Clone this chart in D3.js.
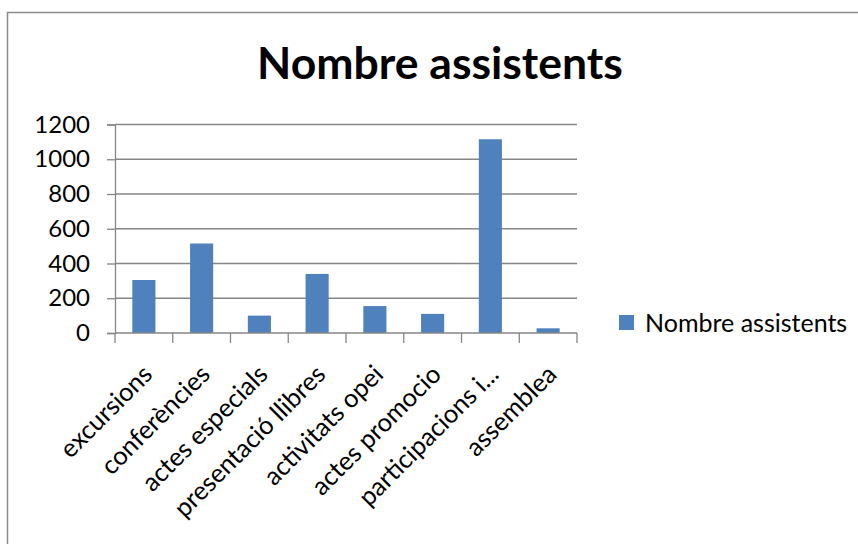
<!DOCTYPE html>
<html>
<head>
<meta charset="utf-8">
<script src="https://cdn.jsdelivr.net/npm/d3@7"></script>
<style>
  body { margin: 0; background: #fff; }
  text { font-family: Lato, "Open Sans", sans-serif; fill: #000; }
</style>
</head>
<body>
<script>
// data
var categories = ["excursions", "conferències", "actes especials", "presentació llibres",
  "activitats opei", "actes promocio", "participacions i...", "assemblea"];
var assistents = [305, 515, 100, 340, 155, 110, 1115, 27];
var yTicks = [0, 200, 400, 600, 800, 1000, 1200];
var seriesName = "Nombre assistents";

var svgWidth = 858;
var svgHeight = 544;

var margin = { top: 124.5, left: 115, right: 281, bottom: 211 };
var chartWidth = svgWidth - margin.left - margin.right;
var chartHeight = svgHeight - margin.top - margin.bottom;

var svg = d3.select("body")
  .append("svg")
  .attr("width", svgWidth)
  .attr("height", svgHeight);

// chart frame
svg.append("rect")
  .attr("x", 7.5)
  .attr("y", 12.5)
  .attr("width", 900)
  .attr("height", 600)
  .attr("fill", "none")
  .attr("stroke", "#8c8c8c")
  .attr("stroke-width", 1.5);

// title
svg.append("text")
  .attr("x", 440)
  .attr("y", 79)
  .attr("text-anchor", "middle")
  .style("font-size", "44.5px")
  .style("font-weight", "bold")
  .text("Nombre assistents");

var chartGroup = svg.append("g")
  .attr("transform", `translate(${margin.left}, ${margin.top})`);

var yScale = d3.scaleLinear()
  .domain([0, 1200])
  .range([chartHeight, 0]);

var xScale = d3.scaleBand()
  .domain(categories)
  .range([0, chartWidth])
  .paddingInner(0.6)
  .paddingOuter(0.3);

// gridlines
chartGroup.append("g")
  .selectAll("line")
  .data(yTicks.slice(1))
  .enter()
  .append("line")
  .attr("x1", 0)
  .attr("x2", chartWidth)
  .attr("y1", d => yScale(d))
  .attr("y2", d => yScale(d))
  .attr("stroke", "#868686")
  .attr("stroke-width", 1.3);

// y axis
var yAxis = d3.axisLeft(yScale)
  .tickValues(yTicks)
  .tickFormat(d3.format("d"))
  .tickSize(8)
  .tickPadding(17);

var yAxisG = chartGroup.append("g").call(yAxis);
yAxisG.select(".domain").attr("stroke", "#868686").attr("stroke-width", 1.3);
yAxisG.selectAll(".tick line").attr("stroke", "#868686").attr("stroke-width", 1.3);
yAxisG.selectAll(".tick text")
  .style("font-size", "24px")
  .style("font-family", "Lato, sans-serif")
  .attr("fill", "#000");

// bars
chartGroup.selectAll(".bar")
  .data(assistents)
  .enter()
  .append("rect")
  .attr("class", "bar")
  .attr("x", (d, i) => xScale(categories[i]))
  .attr("y", d => yScale(d))
  .attr("width", xScale.bandwidth())
  .attr("height", d => chartHeight - yScale(d))
  .attr("fill", "#4f81bd");

// x axis: ticks sit on the band edges, labels at band centres
var edges = d3.range(categories.length + 1).map(i => i * chartWidth / categories.length);

var xAxisG = chartGroup.append("g")
  .attr("transform", `translate(0, ${chartHeight})`);

xAxisG.append("line")
  .attr("x1", 0)
  .attr("x2", chartWidth)
  .attr("stroke", "#868686")
  .attr("stroke-width", 1.3);

xAxisG.selectAll(".xtick")
  .data(edges)
  .enter()
  .append("line")
  .attr("class", "xtick")
  .attr("x1", d => d)
  .attr("x2", d => d)
  .attr("y1", 0)
  .attr("y2", 10)
  .attr("stroke", "#868686")
  .attr("stroke-width", 1.3);

xAxisG.selectAll(".xlabel")
  .data(categories)
  .enter()
  .append("text")
  .attr("class", "xlabel")
  .attr("text-anchor", "end")
  .attr("transform", d => `translate(${xScale(d) + xScale.bandwidth() / 2 + 10}, ${43}) rotate(-45)`)
  .style("font-size", "25.5px")
  .text(d => d);

// legend
var legend = svg.append("g")
  .attr("transform", "translate(619, 315)");

legend.append("rect")
  .attr("width", 15)
  .attr("height", 15)
  .attr("fill", "#4f81bd");

legend.append("text")
  .attr("x", 26)
  .attr("y", 17)
  .style("font-size", "25px")
  .text(seriesName);
</script>
</body>
</html>
